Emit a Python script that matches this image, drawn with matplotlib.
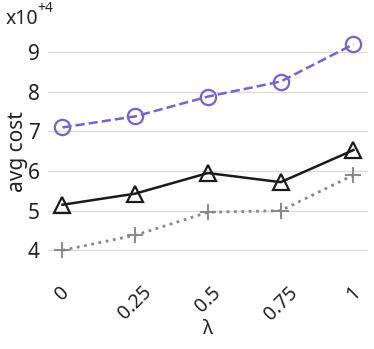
import numpy as np
import matplotlib.pyplot as plt

plt.rcParams['font.family'] = ['Noto Sans', 'DejaVu Sans']

# lambda values and average cost (x10^4)
lam = [0, 0.25, 0.5, 0.75, 1]
lam_labels = ["0", "0.25", "0.5", "0.75", "1"]
cost_circle = [7.1, 7.38, 7.88, 8.26, 9.2]
cost_triangle = [5.15, 5.43, 5.95, 5.72, 6.53]
cost_plus = [4.0, 4.38, 4.96, 5.0, 5.9]
yticks = [4, 5, 6, 7, 8, 9]

fig = plt.figure(figsize=(3.74, 3.49), dpi=100)
ax = fig.add_axes([0.128, 0.226, 0.856, 0.679])

ax.plot(lam, cost_circle, '--', color='#7463d6', lw=1.8, marker='o',
        markersize=11, markerfacecolor='none', markeredgecolor='#7463d6',
        markeredgewidth=1.6)
ax.plot(lam, cost_triangle, '-', color='#1a1a1a', lw=1.8, marker='^',
        markersize=11, markerfacecolor='none', markeredgecolor='#1a1a1a',
        markeredgewidth=1.6)
ax.plot(lam, cost_plus, ':', color='#888888', lw=2.0, marker='+',
        markersize=11, markeredgecolor='#888888', markeredgewidth=1.4)

ax.set_xlim(-0.05, 1.05)
ax.set_ylim(3.5, 9.48)
ax.set_xticks(lam)
ax.set_xticklabels(lam_labels, rotation=45, fontsize=14)
ax.set_yticks(yticks)
ax.set_yticklabels([str(v) for v in yticks], fontsize=15)
ax.tick_params(length=0, colors='#222222', pad=6)
ax.tick_params(axis='x', pad=9)
ax.grid(axis='y', color='#dddddd', lw=1)
ax.set_axisbelow(True)
for s in ax.spines.values():
    s.set_visible(False)

ax.set_xlabel("λ", fontsize=14, color='#222222', va='center')
ax.xaxis.set_label_coords(0.5, -0.25)
ax.set_ylabel("avg cost", fontsize=15, color='#222222', va='center')
ax.yaxis.set_label_coords(-0.095, 0.5)
fig.text(0.015, 0.93, "x10", fontsize=14, color='#222222')
fig.text(0.10, 0.965, "+4", fontsize=10, color='#222222')

fig.savefig("out.png", dpi=100)
